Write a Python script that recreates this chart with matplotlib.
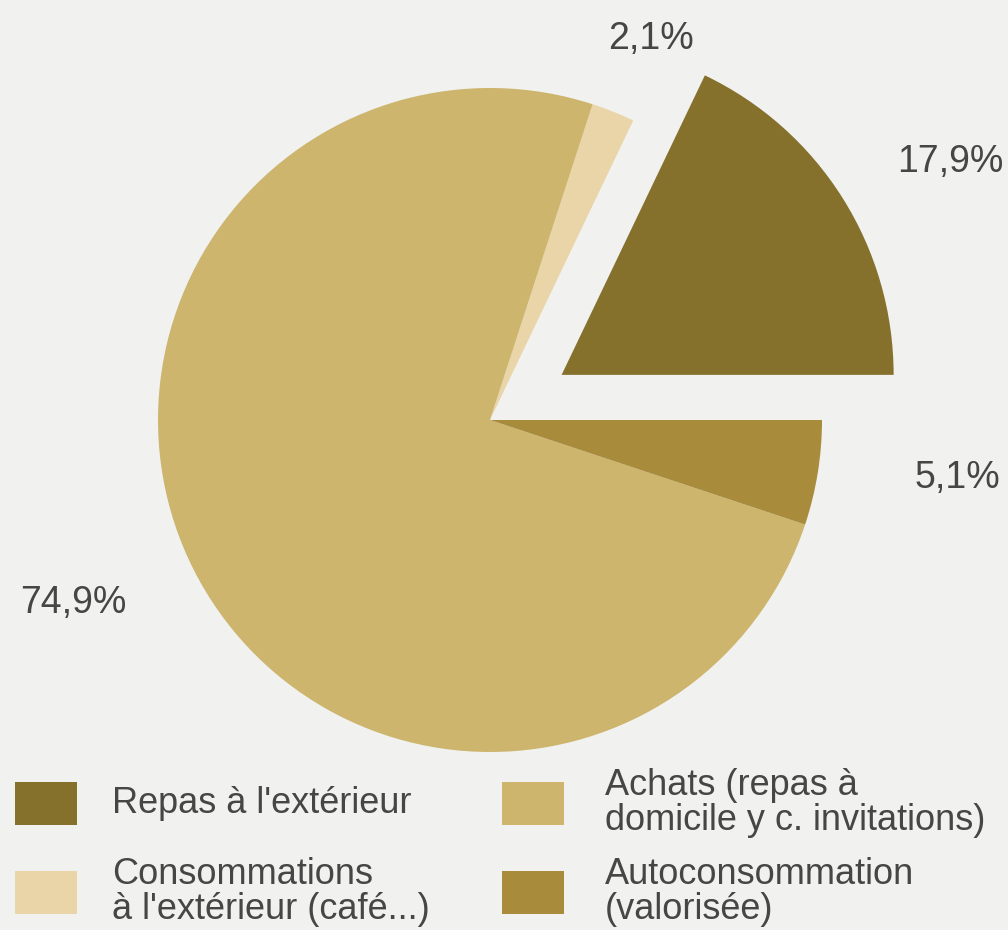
import numpy as np
import matplotlib
matplotlib.use("Agg")
import matplotlib.pyplot as plt
from matplotlib.patches import Rectangle

plt.rcParams['font.family'] = ['Liberation Sans', 'DejaVu Sans']

labels = ["Repas à l'extérieur",
          "Consommations\nà l'extérieur (café...)",
          "Achats (repas à\ndomicile y c. invitations)",
          "Autoconsommation\n(valorisée)"]
values = [17.9, 2.1, 74.9, 5.1]
pct_text = ["17,9%", "2,1%", "74,9%", "5,1%"]
colors = ["#85702c", "#e9d5a8", "#cdb56d", "#a98b3c"]
explode = [0.255, 0, 0, 0]

# distance of each percentage label from the centre, in pie radii
label_dist = [1.334, 1.245, 1.371, 1.42]
label_shift = [-3.5, -1.2, -3.1, 2.1]   # small angular nudge, degrees

W, H = 1008, 930
bg = "#f1f1f0"
txt_color = "#464646"
fig = plt.figure(figsize=(W / 100, H / 100), dpi=100, facecolor=bg)
ax = fig.add_axes([0, 0, 1, 1])
ax.set_facecolor(bg)

wedges, _ = ax.pie(values, colors=colors, explode=explode, startangle=0,
                   counterclock=True, radius=1.0,
                   wedgeprops=dict(linewidth=0))

r_px = 332.0
ax.set_xlim(-490 / r_px, (W - 490) / r_px)
ax.set_ylim(-(H - 420) / r_px, 420 / r_px)
ax.set_aspect('equal')
ax.axis('off')

for w, txt, d, s, ex in zip(wedges, pct_text, label_dist, label_shift, explode):
    mid = np.deg2rad((w.theta1 + w.theta2) / 2)
    cx, cy = ex * np.cos(mid), ex * np.sin(mid)
    ang = mid + np.deg2rad(s)
    ax.text(cx + d * np.cos(ang), cy + d * np.sin(ang), txt,
            ha='center', va='center', fontsize=27, color=txt_color)

# legend: two columns, two rows (pixel layout)
col_box_x = [15, 502]
col_text_x = [112, 605]
row_y = [803, 892]
box_w, box_h = 62, 43
for i, (lab, col) in enumerate(zip(labels, colors)):
    c, r = i // 2, i % 2
    fig.add_artist(Rectangle((col_box_x[c] / W, 1 - (row_y[r] + box_h / 2) / H),
                             box_w / W, box_h / H, transform=fig.transFigure,
                             facecolor=col, edgecolor='none'))
    fig.text(col_text_x[c] / W, 1 - row_y[r] / H, lab, ha='left', va='center',
             fontsize=26, color=txt_color, linespacing=1.0)

fig.savefig("out.png", dpi=100, facecolor=bg)
